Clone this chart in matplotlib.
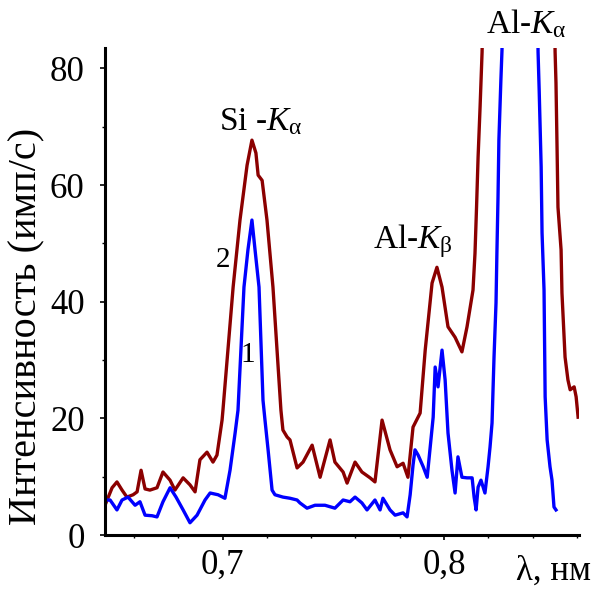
import numpy as np
import matplotlib
matplotlib.use("Agg")
import matplotlib.pyplot as plt
from matplotlib.ticker import MultipleLocator, FixedLocator

plt.rcParams['font.family'] = ['Liberation Serif', 'DejaVu Serif']
plt.rcParams['mathtext.fontset'] = 'custom'
plt.rcParams['mathtext.rm'] = 'Liberation Serif'
plt.rcParams['mathtext.it'] = 'Liberation Serif:italic'

# curve 2 (dark red)
wl_2 = [0.6468, 0.6500, 0.6522, 0.6545, 0.6567, 0.6595, 0.6613, 0.6631, 0.6649, 0.6671,
        0.6703, 0.6730, 0.6762, 0.6784, 0.6821, 0.6852, 0.6875, 0.6897, 0.6929, 0.6956,
        0.6974, 0.6997, 0.7001, 0.7047, 0.7078, 0.7110, 0.7132, 0.7150, 0.7160, 0.7178,
        0.7200, 0.7227, 0.7263, 0.7272, 0.7291, 0.7304, 0.7336, 0.7363, 0.7404, 0.7440,
        0.7485, 0.7507, 0.7544, 0.7562, 0.7598, 0.7629, 0.7666, 0.7688, 0.7720, 0.7756,
        0.7788, 0.7815, 0.7837, 0.7860, 0.7892, 0.7915, 0.7946, 0.7968, 0.7991, 0.8018,
        0.8050, 0.8081, 0.8104, 0.8131, 0.8140, 0.8147, 0.8154, 0.8163, 0.8172, 0.8190,
        0.8490, 0.8502, 0.8506, 0.8511, 0.8515, 0.8529, 0.8533, 0.8547, 0.8560, 0.8570,
        0.8588, 0.8597, 0.8606]
int_2 = [5.1, 8.1, 9.1, 7.7, 6.5, 6.9, 7.4, 11.1, 7.9, 7.7,
         8.1, 10.8, 9.4, 7.7, 9.8, 8.6, 7.4, 12.9, 14.2, 12.5,
         13.7, 19.7, 21.4, 42.5, 54.0, 63.4, 67.7, 65.5, 61.7, 60.8,
         54.0, 42.5, 21.4, 18.0, 16.8, 16.3, 11.5, 12.5, 15.4, 9.9,
         16.3, 12.5, 10.8, 8.9, 12.5, 10.8, 9.8, 9.1, 19.7, 14.6,
         11.7, 12.3, 9.9, 18.5, 20.9, 31.7, 43.2, 45.9, 42.5, 35.7,
         33.9, 31.4, 35.7, 42.0, 48.3, 56.2, 64.8, 73.4, 82.8, 120.0,
         120.0, 82.8, 77.5, 66.0, 56.2, 48.9, 41.5, 30.5, 26.6, 24.9,
         25.4, 23.7, 20.2]

# curve 1 (blue)
wl_1 = [0.6468, 0.6491, 0.6522, 0.6545, 0.6572, 0.6604, 0.6626, 0.6649, 0.6681, 0.6703,
        0.6730, 0.6762, 0.6789, 0.6821, 0.6852, 0.6884, 0.6920, 0.6943, 0.6979, 0.7010,
        0.7033, 0.7056, 0.7069, 0.7096, 0.7114, 0.7132, 0.7146, 0.7164, 0.7182, 0.7191,
        0.7205, 0.7223, 0.7236, 0.7272, 0.7304, 0.7336, 0.7349, 0.7381, 0.7417, 0.7462,
        0.7507, 0.7544, 0.7575, 0.7598, 0.7629, 0.7652, 0.7688, 0.7711, 0.7724, 0.7756,
        0.7779, 0.7815, 0.7833, 0.7847, 0.7860, 0.7869, 0.7883, 0.7906, 0.7924, 0.7951,
        0.7960, 0.7973, 0.7991, 0.8005, 0.8018, 0.8036, 0.8050, 0.8063, 0.8081, 0.8104,
        0.8127, 0.8136, 0.8145, 0.8154, 0.8167, 0.8185, 0.8199, 0.8208, 0.8217, 0.8221,
        0.8226, 0.8235, 0.8239, 0.8244, 0.8248, 0.8257, 0.8262, 0.8275,
        0.8415, 0.8425, 0.8430, 0.8439, 0.8443, 0.8452, 0.8457, 0.8466, 0.8479, 0.8488,
        0.8497, 0.8506]
int_1 = [6.0, 6.0, 4.3, 6.0, 6.5, 5.1, 5.7, 3.4, 3.3, 3.1,
         5.7, 8.1, 6.5, 4.3, 2.1, 3.4, 6.0, 7.2, 6.9, 6.3,
         11.1, 17.5, 21.4, 42.5, 48.9, 54.0, 48.9, 42.5, 23.1, 19.7,
         14.6, 7.7, 6.9, 6.5, 6.3, 6.0, 5.5, 4.6, 5.1, 5.1,
         4.6, 6.0, 5.7, 6.5, 5.5, 4.3, 6.0, 4.3, 6.3, 4.3,
         3.4, 3.8, 3.1, 6.9, 12.0, 14.6, 13.7, 11.7, 9.9, 20.2,
         28.8, 25.4, 31.7, 26.6, 17.5, 11.1, 7.2, 13.4, 9.9, 9.8,
         9.8, 6.5, 4.3, 8.2, 9.4, 7.2, 11.7, 15.1, 19.2, 24.3,
         30.5, 39.8, 48.3, 57.9, 67.7, 78.0, 83.1, 120.0,
         120.0, 82.8, 76.3, 63.1, 51.8, 42.0, 23.7, 16.3, 11.7, 9.4,
         4.8, 4.3]

x_ticks = [0.7, 0.8]
x_ticklabels = ["0,7", "0,8"]
y_ticks = [0, 20, 40, 60, 80]

fig = plt.figure(figsize=(5.95, 5.91), dpi=100)
ax = fig.add_axes([105/595, 1 - 535/591, (579 - 105)/595, (535 - 48)/591])

ax.plot(wl_2, int_2, color='#8b0000', lw=2.4)
ax.plot(wl_1, int_1, color='#0000ff', lw=2.4)

ax.set_xlim(0.6468, 0.861)
ax.set_ylim(0, 83.5)

ax.spines['top'].set_visible(False)
ax.spines['right'].set_visible(False)
ax.spines['left'].set_linewidth(2.2)
ax.spines['bottom'].set_linewidth(2.2)

ax.set_xticks(x_ticks)
ax.set_xticklabels(x_ticklabels)
ax.xaxis.set_minor_locator(MultipleLocator(0.02))
ax.set_yticks(y_ticks)
ax.yaxis.set_minor_locator(MultipleLocator(10))
ax.tick_params(which='major', direction='out', length=3.6, width=1.2, labelsize=25)
ax.tick_params(which='minor', direction='out', length=2.5, width=1.0)
ax.tick_params(axis='y', which='major', pad=11)
ax.tick_params(axis='x', which='major', pad=6)

fig.text(27/595, 1 - 326/591, "Интенсивность (имп/с)", rotation=90,
         ha='center', va='center', fontsize=29)

ax.text(0.7170, 69.4, r"Si -$\mathit{K}_{\mathrm{\alpha}}$", ha='center', va='baseline', fontsize=24)
ax.text(0.7857, 49.2, r"Al-$\mathit{K}_{\mathrm{\beta}}$", ha='center', va='baseline', fontsize=24)
ax.text(0.8371, 86.0, r"Al-$\mathit{K}_{\mathrm{\alpha}}$", ha='center', va='baseline',
        fontsize=24, clip_on=False)
ax.text(0.7001, 45.9, "2", ha='center', va='baseline', fontsize=21)
ax.text(0.7114, 29.7, "1", ha='center', va='baseline', fontsize=21)
ax.text(0.8494, -7.7, "λ, нм", ha='center', va='baseline', fontsize=25, clip_on=False)

fig.savefig("out.png", dpi=100)
